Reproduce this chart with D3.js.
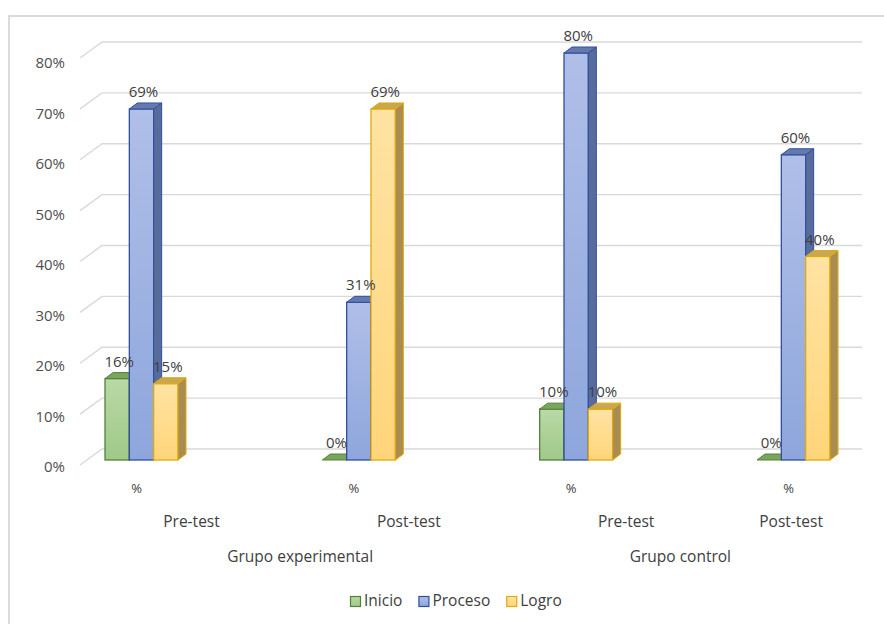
<!DOCTYPE html>
<html>
<head>
<meta charset="utf-8">
<script src="https://cdn.jsdelivr.net/npm/d3@7"></script>
<style>
  html, body { margin: 0; padding: 0; background: #fff; }
  svg { display: block; }
  text { font-family: "Open Sans", sans-serif; }
</style>
</head>
<body>
<svg id="chart" width="884" height="624"></svg>
<script>
// ---- data ----
const levelPct = ["%", "%", "%", "%"];
const tests = ["Pre-test", "Post-test", "Pre-test", "Post-test"];
const groups = ["Grupo experimental", "Grupo control"];
const seriesNames = ["Inicio", "Proceso", "Logro"];
const inicio = [0.16, 0.00, 0.10, 0.00];
const proceso = [0.69, 0.31, 0.80, 0.60];
const logro = [0.15, 0.69, 0.10, 0.40];
const yTicks = [0, 0.1, 0.2, 0.3, 0.4, 0.5, 0.6, 0.7, 0.8];

const seriesValues = [inicio, proceso, logro];

// ---- styles ----
const styles = {
  Inicio:  { top: "#b9d9a6", bot: "#a0c98a", stroke: "#548235", side: "#6f8f57", cap: "#7aa55e" },
  Proceso: { top: "#b0bfe8", bot: "#8ea6dc", stroke: "#2f4f9e", side: "#586c9c", cap: "#6679ad" },
  Logro:   { top: "#ffe3a3", bot: "#ffd57a", stroke: "#e0aa0a", side: "#a88c52", cap: "#c9a650" }
};

const svg = d3.select("#chart");
const defs = svg.append("defs");
seriesNames.forEach((s, i) => {
  const g = defs.append("linearGradient").attr("id", "grad" + i)
    .attr("x1", 0).attr("y1", 0).attr("x2", 0).attr("y2", 1);
  g.append("stop").attr("offset", "0%").attr("stop-color", styles[s].top);
  g.append("stop").attr("offset", "100%").attr("stop-color", styles[s].bot);
});

// ---- scales ----
const yFront = d3.scaleLinear().domain([0, 0.8]).range([460, 53]);
const yLabel = d3.scaleLinear().domain([0, 0.8]).range([472, 68]);
const xCluster = d3.scalePoint().domain(d3.range(4)).range([141.5, 793.5]);
const xSeries = d3.scaleBand().domain(seriesNames).range([-36.5, 36.5]);
const DX = 8, DY = 6;
const wallDX = 22, wallDY = 16;

// border (top and left)
svg.append("path")
  .attr("d", "M9,624 L9,16 L884,16")
  .attr("fill", "none").attr("stroke", "#cfcfcf").attr("stroke-width", 1.5);

// gridlines: front diagonal + back wall
const grid = svg.append("g");
yTicks.forEach(v => {
  const yf = yFront(v) + 5;
  const yb = yf - wallDY;
  grid.append("path")
    .attr("d", `M80,${yf} L${80 + wallDX},${yb} L862,${yb}`)
    .attr("fill", "none").attr("stroke", "#d9d9d9").attr("stroke-width", 1.4);
});

// y labels
svg.append("g").selectAll("text").data(yTicks).join("text")
  .attr("x", 65).attr("y", d => yLabel(d))
  .attr("text-anchor", "end")
  .attr("font-size", 15).attr("fill", "#505050")
  .text(d => d3.format(".0%")(d));

// bars
const bars = svg.append("g");
d3.range(4).forEach(ci => {
  seriesNames.forEach((s, si) => {
    const v = seriesValues[si][ci];
    const st = styles[s];
    const x0 = xCluster(ci) + xSeries(s);
    const w = xSeries.bandwidth();
    const yt = yFront(v), yb = yFront(0);
    const g = bars.append("g");
    if (v > 0) {
      g.append("rect").attr("x", x0).attr("y", yt).attr("width", w).attr("height", yb - yt)
        .attr("fill", `url(#grad${si})`).attr("stroke", st.stroke).attr("stroke-width", 1.3);
      g.append("path")
        .attr("d", `M${x0 + w},${yt} L${x0 + w + DX},${yt - DY} L${x0 + w + DX},${yb - DY} L${x0 + w},${yb} Z`)
        .attr("fill", st.side).attr("stroke", st.stroke).attr("stroke-width", 1).attr("stroke-linejoin", "round");
    }
    g.append("path")
      .attr("d", `M${x0},${yt} L${x0 + DX},${yt - DY} L${x0 + w + DX},${yt - DY} L${x0 + w},${yt} Z`)
      .attr("fill", st.cap).attr("stroke", st.stroke).attr("stroke-width", 1).attr("stroke-linejoin", "round");
  });
});

// value labels
const vl = svg.append("g");
d3.range(4).forEach(ci => {
  seriesNames.forEach((s, si) => {
    const v = seriesValues[si][ci];
    const x0 = xCluster(ci) + xSeries(s);
    vl.append("text")
      .attr("x", x0 + xSeries.bandwidth() / 2 + 2)
      .attr("y", yFront(v) - 12)
      .attr("text-anchor", "middle")
      .attr("font-size", 15).attr("fill", "#404040")
      .text(d3.format(".0%")(v));
  });
});

// category axis labels
const cat = svg.append("g").attr("font-size", 15.5).attr("fill", "#404040");
levelPct.forEach((t, i) => {
  cat.append("text").attr("x", xCluster(i) - 5).attr("y", 493)
    .attr("text-anchor", "middle").attr("font-size", 13).text(t);
});
tests.forEach((t, i) => {
  const el = cat.append("text").attr("y", 527).attr("text-anchor", "middle").text(t);
  const wdt = el.node().getComputedTextLength();
  el.attr("x", Math.min(xCluster(i) + 50, 823 - wdt / 2));
});
groups.forEach((t, gi) => {
  const el = cat.append("text").attr("y", 562).attr("text-anchor", "middle").text(t);
  const wdt = el.node().getComputedTextLength();
  const c = (xCluster(gi * 2) + xCluster(gi * 2 + 1)) / 2 + 50;
  el.attr("x", Math.min(c, 731 - wdt / 2));
});

// legend
const leg = svg.append("g");
let lx = 350;
seriesNames.forEach((s, si) => {
  leg.append("rect").attr("x", lx + 0.5).attr("y", 596.5).attr("width", 10).attr("height", 10)
    .attr("fill", `url(#grad${si})`).attr("stroke", styles[s].stroke).attr("stroke-width", 1.2);
  const t = leg.append("text").attr("x", lx + 14).attr("y", 606)
    .attr("font-size", 15.5).attr("fill", "#404040").text(s);
  lx += 14 + t.node().getComputedTextLength() + 16;
});
</script>
</body>
</html>
